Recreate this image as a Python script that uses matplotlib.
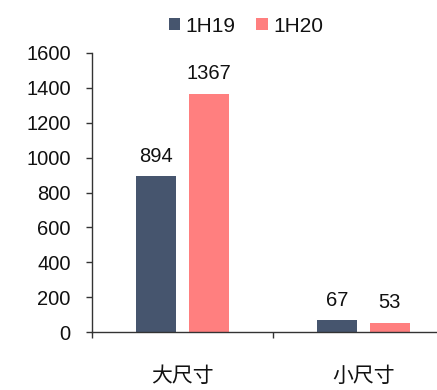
import matplotlib
matplotlib.use("Agg")
import matplotlib.pyplot as plt
from matplotlib.ticker import FixedLocator
from matplotlib.patches import Patch

categories = ["大尺寸", "小尺寸"]
series_names = ["1H19", "1H20"]
values_1h19 = [894, 67]
values_1h20 = [1367, 53]
colors = ["#46556E", "#FF7F7F"]

plt.rcParams["font.family"] = ["Liberation Sans", "Noto Sans CJK SC", "DejaVu Sans"]

W, H = 437, 390
fig = plt.figure(figsize=(W / 100, H / 100), dpi=100)
left, right, bottom, top = 92, 454, 332, 53
ax = fig.add_axes([left / W, 1 - bottom / H, (right - left) / W, (bottom - top) / H])

width = 0.221
offset = 0.144
x = range(len(categories))
for vals, off, c in ((values_1h19, -offset, colors[0]), (values_1h20, offset, colors[1])):
    bars = ax.bar([i + off for i in x], vals, width=width, color=c, edgecolor="none")
    for b, v in zip(bars, vals):
        ax.text(b.get_x() + b.get_width() / 2, v + 60, f"{v}", ha="center", va="bottom",
                fontsize=14.5, color="#111111")

ax.set_xlim(-0.5, 1.5)
ax.set_ylim(0, 1600)
ax.set_yticks(range(0, 1601, 200))
ax.tick_params(axis="y", labelsize=14.5, length=4.3, width=1, direction="out", pad=11,
               color="#333333", labelcolor="#111111")

ax.xaxis.set_major_locator(FixedLocator([-0.5, 0.5]))
ax.set_xticklabels([])
ax.tick_params(axis="x", which="major", length=4.5, width=1, direction="out", color="#333333")
ax.xaxis.set_minor_locator(FixedLocator([0, 1]))
ax.set_xticklabels(categories, minor=True)
ax.tick_params(axis="x", which="minor", length=0, pad=24, labelsize=15, labelcolor="#111111")
for lab in ax.get_xticklabels(minor=True):
    lab.set_fontfamily(["Noto Sans CJK SC", "DejaVu Sans"])

for s in ("top", "right"):
    ax.spines[s].set_visible(False)
for s in ("left", "bottom"):
    ax.spines[s].set_color("#333333")
    ax.spines[s].set_linewidth(1)

handles = [Patch(facecolor=c, edgecolor="none") for c in colors]
fig.legend(handles, series_names, loc="center", bbox_to_anchor=(246 / W, 1 - 26 / H), ncol=2,
           frameon=False, fontsize=15, handlelength=0.55, handleheight=0.55,
           handletextpad=0.25, columnspacing=1.0, labelcolor="#111111")

fig.savefig("out.png", dpi=100)
